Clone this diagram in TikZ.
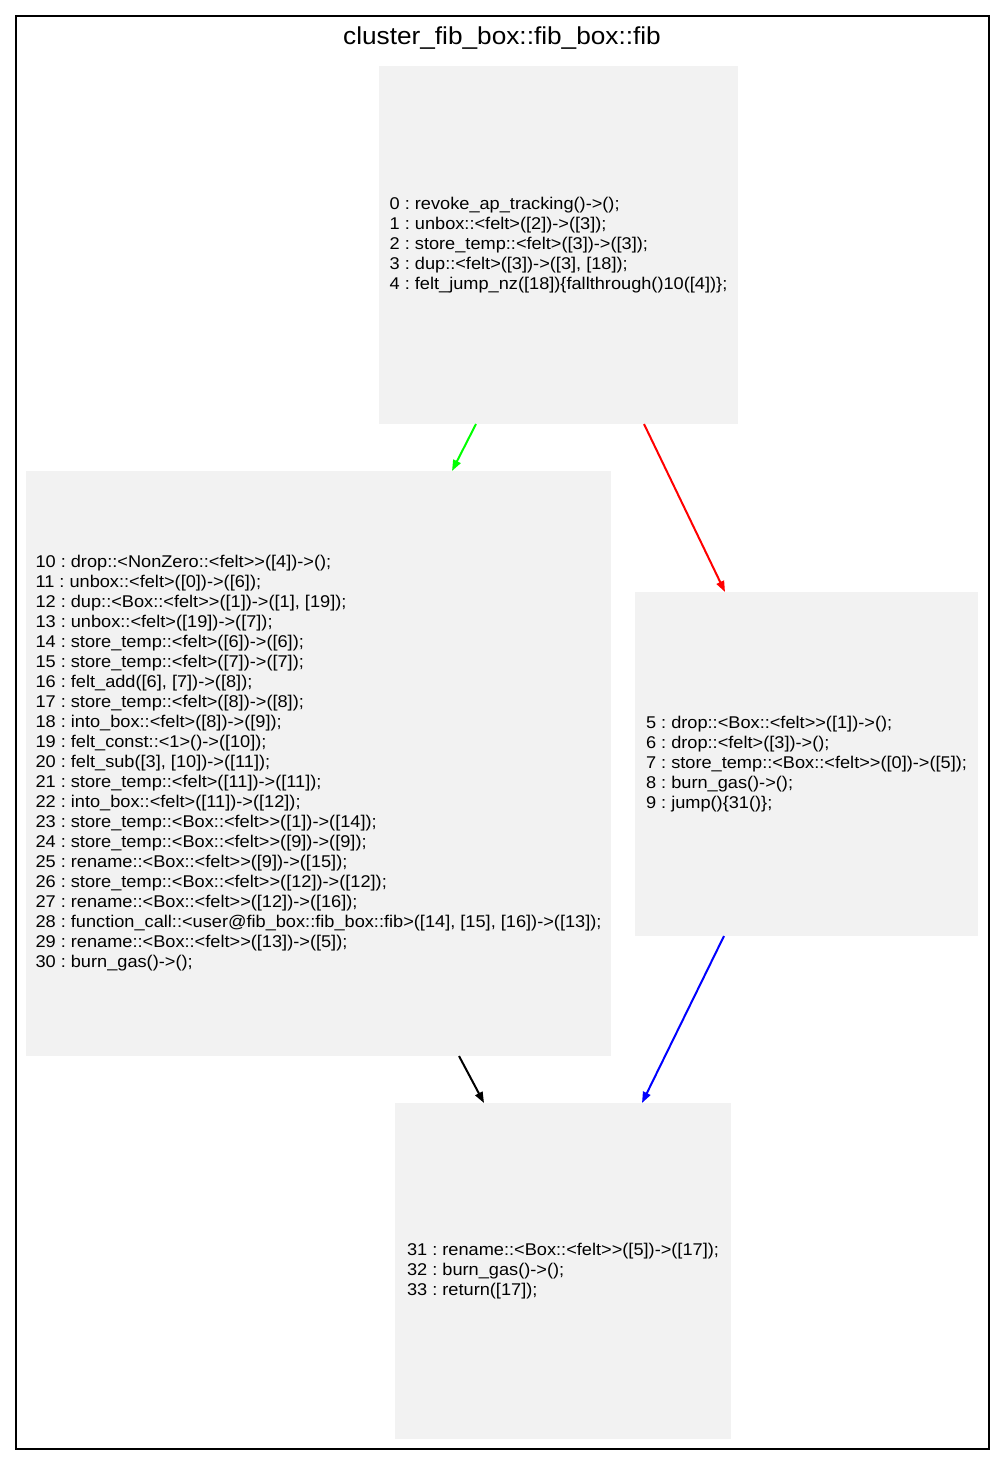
\documentclass[tikz,border=0pt]{standalone}
\usepackage{fontspec}
\setmainfont{Liberation Sans}[Ligatures=TeXOff, FakeStretch=1.07]
\usetikzlibrary{arrows.meta,calc}
\definecolor{boxgray}{HTML}{F2F2F2}
\definecolor{egreen}{HTML}{00FF00}
\definecolor{ered}{HTML}{FF0000}
\definecolor{eblue}{HTML}{0000FF}
\frenchspacing
\begin{document}
\begin{tikzpicture}[x=1pt,y=-1pt,
  blk/.style={fill=boxgray, draw=none, align=left, inner sep=0pt, outer sep=0pt,
              font=\fontsize{17}{20}\selectfont},
  edge/.style={line width=2pt, -{Triangle[length=11pt,width=8pt]}}]
\useasboundingbox (0,0) rectangle (1005,1465);
\node[draw=black, line width=1.2pt, inner sep=0pt, outer sep=0pt,
      minimum width=973pt, minimum height=1433pt] (cl) at (502.5,732.5) {};
\node[font=\fontsize{24.5}{28}\selectfont, anchor=base] (title) at (502,44) {cluster\_fib\_box::fib\_box::fib};

\node[blk, minimum width=359pt, minimum height=358pt] (A) at (558.5,245) {%
0 : revoke\_ap\_tracking()->();\\
1 : unbox::<felt>([2])->([3]);\\
2 : store\_temp::<felt>([3])->([3]);\\
3 : dup::<felt>([3])->([3], [18]);\\
4 : felt\_jump\_nz([18])\{fallthrough()10([4])\};};

\node[blk, minimum width=585pt, minimum height=585pt] (B) at (318.5,763.5) {%
10 : drop::<NonZero::<felt>>([4])->();\\
11 : unbox::<felt>([0])->([6]);\\
12 : dup::<Box::<felt>>([1])->([1], [19]);\\
13 : unbox::<felt>([19])->([7]);\\
14 : store\_temp::<felt>([6])->([6]);\\
15 : store\_temp::<felt>([7])->([7]);\\
16 : felt\_add([6], [7])->([8]);\\
17 : store\_temp::<felt>([8])->([8]);\\
18 : into\_box::<felt>([8])->([9]);\\
19 : felt\_const::<1>()->([10]);\\
20 : felt\_sub([3], [10])->([11]);\\
21 : store\_temp::<felt>([11])->([11]);\\
22 : into\_box::<felt>([11])->([12]);\\
23 : store\_temp::<Box::<felt>>([1])->([14]);\\
24 : store\_temp::<Box::<felt>>([9])->([9]);\\
25 : rename::<Box::<felt>>([9])->([15]);\\
26 : store\_temp::<Box::<felt>>([12])->([12]);\\
27 : rename::<Box::<felt>>([12])->([16]);\\
28 : function\_call::<user@fib\_box::fib\_box::fib>([14], [15], [16])->([13]);\\
29 : rename::<Box::<felt>>([13])->([5]);\\
30 : burn\_gas()->();};

\node[blk, minimum width=343pt, minimum height=344pt] (C) at (806.5,764) {%
5 : drop::<Box::<felt>>([1])->();\\
6 : drop::<felt>([3])->();\\
7 : store\_temp::<Box::<felt>>([0])->([5]);\\
8 : burn\_gas()->();\\
9 : jump()\{31()\};};

\node[blk, minimum width=336pt, minimum height=336pt] (D) at (563,1271) {%
31 : rename::<Box::<felt>>([5])->([17]);\\
32 : burn\_gas()->();\\
33 : return([17]);};

\draw[edge, egreen] ($(A.south west)+(97,0)$) -- ($(B.north west)+(426,0)$);
\draw[edge, ered] ($(A.south west)+(265,0)$) -- ($(C.north west)+(90,0)$);
\draw[edge, black] ($(B.south west)+(433,0)$) -- ($(D.north west)+(89,0)$);
\draw[edge, eblue] ($(C.south west)+(89,0)$) -- ($(D.north west)+(247,0)$);
\end{tikzpicture}
\end{document}
